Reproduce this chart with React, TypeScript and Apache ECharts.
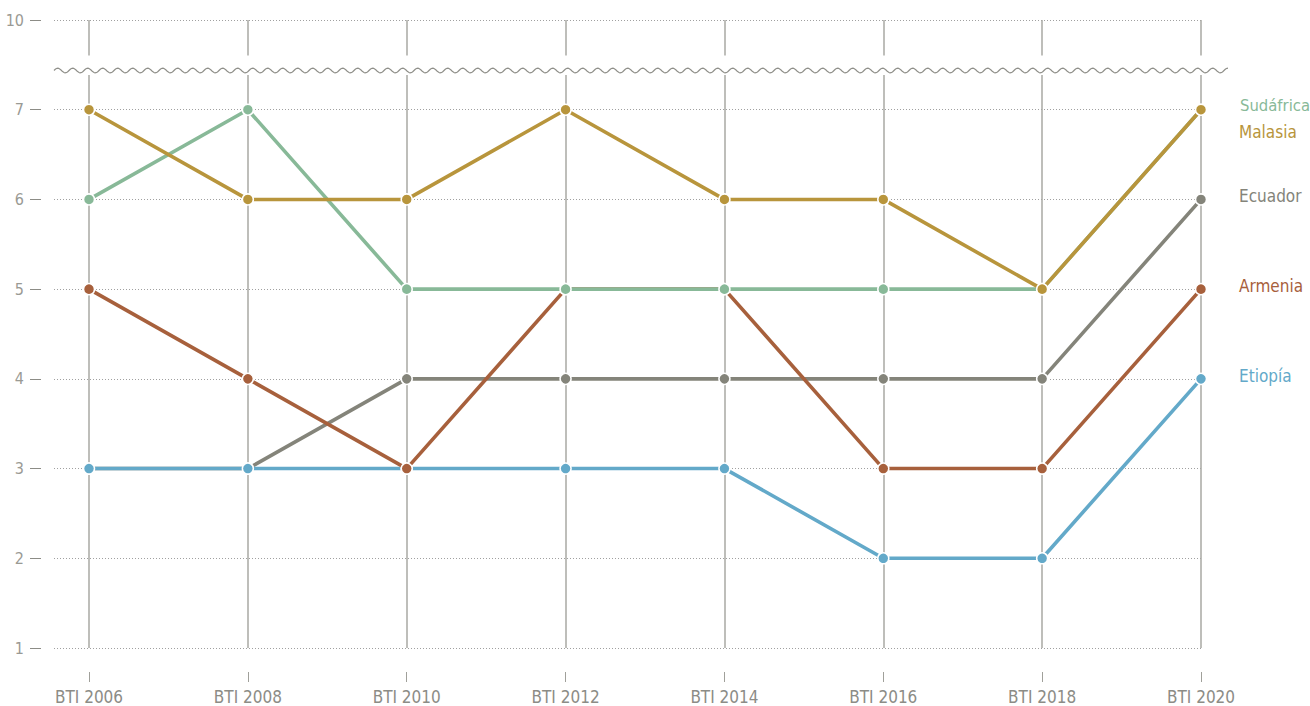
import React, { useEffect, useRef } from "react";
import * as echarts from "echarts";

const categories = ["BTI 2006", "BTI 2008", "BTI 2010", "BTI 2012", "BTI 2014", "BTI 2016", "BTI 2018", "BTI 2020"];
const sudafrica = [6, 7, 5, 5, 5, 5, 5, 7];
const malasia = [7, 6, 6, 7, 6, 6, 5, 7];
const ecuador = [3, 3, 4, 4, 4, 4, 4, 6];
const armenia = [5, 4, 3, 5, 5, 3, 3, 5];
const etiopia = [3, 3, 3, 3, 3, 2, 2, 4];
// axis position 8 stands for the value 10 above the axis break
const yTickLabels: Record<number, string> = { 1: "1", 2: "2", 3: "3", 4: "4", 5: "5", 6: "6", 7: "7", 8: "10" };

const FONT = "'Liberation Sans Narrow', 'DejaVu Sans Condensed', 'Roboto Condensed', Roboto, sans-serif";
const GRAY = "#8c8c86";

export default function App() {
  const ref = useRef<HTMLDivElement>(null);
  useEffect(() => {
    if (!ref.current) return;
    const chart = echarts.init(ref.current, undefined, { renderer: "svg" });

    const top = 20;
    const bottom = 58;
    const waveY = 70.5;
    const wavePts: number[][] = [];
    for (let x = 54; x <= 1228; x += 1) {
      wavePts.push([x, waveY - 2.3 * Math.sin((2 * Math.PI * (x - 54)) / 15)]);
    }

    const mk = (name: string, data: number[], color: string, offset: number[], dist: number, z: number, fs = 17) => ({
      name,
      type: "line",
      data,
      xAxisIndex: 0,
      yAxisIndex: 0,
      z,
      symbol: "circle",
      symbolSize: 11,
      lineStyle: { color, width: 3.6 },
      itemStyle: { color, borderColor: "#ffffff", borderWidth: 1.5 },
      emphasis: { disabled: true },
      endLabel: {
        show: true,
        formatter: "{a}",
        color,
        fontFamily: FONT,
        fontSize: fs,
        distance: dist,
        offset,
      },
    });

    chart.setOption({
      animation: false,
      grid: [
        { left: 89, right: 109, top, bottom },
        { left: 54, right: 109, top, bottom },
      ],
      xAxis: [
        {
          type: "category",
          gridIndex: 0,
          data: categories,
          boundaryGap: false,
          offset: 24,
          axisLine: { show: false },
          axisTick: { show: true, length: 10, lineStyle: { color: "#a0a09a", width: 1 } },
          axisLabel: { color: GRAY, fontFamily: FONT, fontSize: 17, margin: 16 },
          splitLine: { show: true, lineStyle: { color: "#a9a9a3", width: 1.5 } },
        },
        {
          type: "category",
          gridIndex: 1,
          data: categories,
          show: false,
        },
      ],
      yAxis: [
        {
          type: "value",
          gridIndex: 0,
          min: 1,
          max: 8,
          interval: 1,
          show: false,
          splitLine: { show: false },
        },
        {
          type: "value",
          gridIndex: 1,
          min: 1,
          max: 8,
          interval: 1,
          offset: 13,
          axisLine: { show: false },
          axisTick: { show: true, length: 11, lineStyle: { color: "#8c8c86", width: 1 } },
          axisLabel: {
            color: "#9a9a94",
            fontFamily: FONT,
            fontSize: 16,
            margin: 17,
            formatter: (v: number) => yTickLabels[v] ?? "",
          },
          splitLine: { show: true, lineStyle: { color: "#a0a0a0", width: 1, type: [1, 2] } },
        },
      ],
      graphic: [
        {
          type: "rect",
          z: 10,
          shape: { x: 60, y: 55.5, width: 1160, height: 19.5 },
          style: { fill: "#ffffff" },
        },
        {
          type: "polyline",
          z: 11,
          shape: { points: wavePts },
          style: { stroke: "#8f8f89", lineWidth: 1.2, fill: null },
        },
      ],
      series: [
        mk("Ecuador", ecuador, "#84847a", [0, -3], 38, 3),
        mk("Etiopía", etiopia, "#63a9c9", [0, -3], 38, 4),
        mk("Armenia", armenia, "#a7603c", [0, -3], 38, 5),
        mk("Sudáfrica", sudafrica, "#88b998", [1, -4], 38, 6, 16.5),
        mk("Malasia", malasia, "#b8953c", [0, 22], 38, 7),
      ],
    });
    return () => chart.dispose();
  }, []);
  return <div ref={ref} style={{ width: 1310, height: 706, position: "absolute", left: 0, top: 0 }} />;
}
